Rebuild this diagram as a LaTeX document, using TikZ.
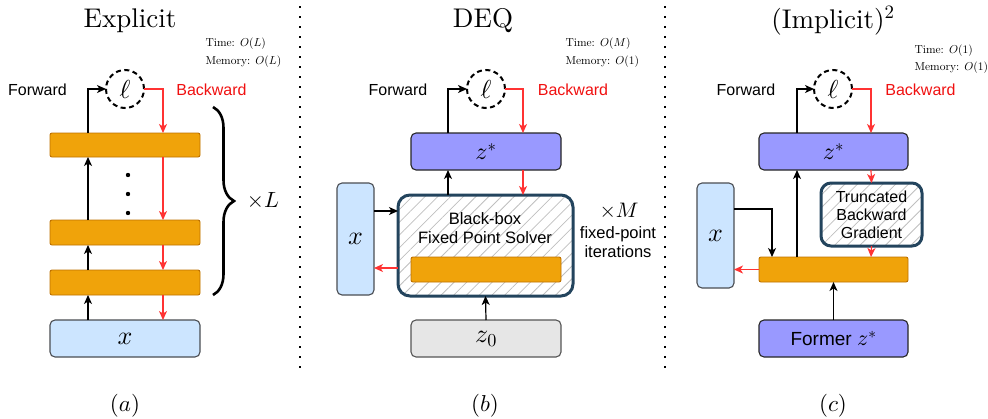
\RequirePackage{fix-cm}
\documentclass[tikz,border=0pt]{standalone}
\usepackage{amsmath}
\usepackage{fontspec}
\setmainfont{lmroman10-regular.otf}
\setsansfont{Liberation Sans}
% math glyphs drawn from the 10pt design at every size
\DeclareFontShape{OML}{cmm}{m}{it}{<->cmmi10}{}
\DeclareFontShape{OT1}{cmr}{m}{n}{<->cmr10}{}
\DeclareFontShape{OMS}{cmsy}{m}{n}{<->cmsy10}{}
\usetikzlibrary{arrows.meta,calc,patterns.meta,decorations.pathreplacing}

\definecolor{layerfill}{HTML}{F0A30A}
\definecolor{layerline}{HTML}{BD7000}
\definecolor{inputfill}{HTML}{CCE5FF}
\definecolor{inputline}{HTML}{4A4D52}
\definecolor{statefill}{HTML}{9999FF}
\definecolor{initfill}{HTML}{E6E6E6}
\definecolor{initline}{HTML}{555555}
\definecolor{solverline}{HTML}{23445D}
\definecolor{bwdred}{HTML}{FF3333}
\definecolor{bwdtext}{HTML}{F01010}

\tikzset{
  base/.style={inner sep=0pt, outer sep=0pt},
  layer/.style={base, draw=layerline, fill=layerfill, line width=0.9pt, rounded corners=2pt},
  inbox/.style={base, draw=inputline, fill=inputfill, line width=1.1pt, rounded corners=5pt,
    font=\fontsize{26}{26}\selectfont},
  statebox/.style={base, draw=black!85, fill=statefill, line width=1.1pt, rounded corners=5pt,
    font=\fontsize{24}{24}\selectfont},
  initbox/.style={base, draw=initline, fill=initfill, line width=1.1pt, rounded corners=5pt,
    font=\fontsize{26}{26}\selectfont},
  solverbox/.style={base, draw=solverline, line width=3pt, rounded corners=12pt,
    pattern={Lines[angle=45,distance=9pt,line width=0.8pt]}, pattern color=black!25},
  loss/.style={base, circle, draw=black, fill=white, line width=2pt, dash pattern=on 5pt off 3.5pt,
    minimum size=38pt, font=\fontsize{26}{26}\selectfont},
  fwd/.style={-{Stealth[length=9pt,width=8pt,inset=2.5pt]}, line width=1.2pt, black},
  bwd/.style={-{Stealth[length=9pt,width=8pt,inset=2.5pt]}, line width=1.2pt, bwdred},
  title/.style={anchor=base, font=\fontsize{27}{27}\selectfont},
  cost/.style={anchor=base west, font=\fontsize{11.5}{13}\selectfont},
  flowlabel/.style={anchor=base, font=\sffamily\fontsize{16}{19}\selectfont},
  sanslabel/.style={font=\sffamily\fontsize{16.5}{19.5}\selectfont, align=center},
  caption/.style={anchor=base, font=\fontsize{23}{23}\selectfont},
  sepline/.style={line width=2.4pt, dash pattern=on 2.4pt off 7.6pt},
  brace/.style={line width=2.6pt, decorate, decoration={brace, amplitude=21pt}},
}

\begin{document}
\begin{tikzpicture}[x=1pt, y=-1pt]
\useasboundingbox (0,0) rectangle (988,418);

% ---------- separators ----------
\coordinate (sepAtop) at (300,6);
\coordinate (sepAbot) at (300,368);
\coordinate (sepBtop) at (665,6);
\coordinate (sepBbot) at (665,372);
\draw[sepline] (sepAtop) -- (sepAbot);
\draw[sepline] (sepBtop) -- (sepBbot);

% ---------- (a) explicit network ----------
\node[title] (titleA) at (130,27) {Explicit};
\node[cost] (timeA) at (202,46) {Time: $O(L)$};
\node[cost] (memA) at (202,64) {Memory: $O(L)$};
\node[flowlabel] (fwdA) at (37.5,95) {Forward};
\node[flowlabel, text=bwdtext] (bwdA) at (211.5,95) {Backward};

\node[loss] (ellA) at (125,89) {$\ell$};
\node[layer, minimum width=150pt, minimum height=24pt] (barA1) at (125,145) {};
\node[layer, minimum width=150pt, minimum height=25pt] (barA2) at (125,232.5) {};
\node[layer, minimum width=150pt, minimum height=25pt] (barA3) at (125,282.5) {};
\node[inbox, minimum width=150pt, minimum height=37pt] (xA) at (125,338.5) {$x$};

\fill (128,175) circle (2.2pt) (128,194) circle (2.2pt) (128,213) circle (2.2pt);

\draw[fwd] ($(barA1.north west)+(38,0)$) |- (ellA.west);
\draw[fwd] ($(barA2.north west)+(38,0)$) -- ($(barA1.south west)+(38,0)$);
\draw[fwd] ($(barA3.north west)+(38,0)$) -- ($(barA2.south west)+(38,0)$);
\draw[fwd] ($(xA.north west)+(38,0)$) -- ($(barA3.south west)+(38,0)$);

\draw[bwd] (ellA.east) -| ($(barA1.north west)+(113,0)$);
\draw[bwd] ($(barA1.south west)+(113,0)$) -- ($(barA2.north west)+(113,0)$);
\draw[bwd] ($(barA2.south west)+(113,0)$) -- ($(barA3.north west)+(113,0)$);
\draw[bwd] ($(barA3.south west)+(113,0)$) -- ($(xA.north west)+(113,0)$);

\coordinate (braceTop) at (213,107);
\coordinate (braceBot) at (213,295);
\draw[brace] (braceTop) -- (braceBot);
\node[font=\fontsize{22}{22}\selectfont] (timesL) at (263,201) {$\times L$};

\node[caption] (capA) at (125,411) {$(a)$};

% ---------- (b) DEQ ----------
\node[title] (titleB) at (483,27) {DEQ};
\node[cost] (timeB) at (562,46) {Time: $O(M)$};
\node[cost] (memB) at (562,64) {Memory: $O(1)$};
\node[flowlabel] (fwdB) at (398,95) {Forward};
\node[flowlabel, text=bwdtext] (bwdB) at (573,95) {Backward};

\node[loss] (ellB) at (486,89) {$\ell$};
\node[statebox, minimum width=150pt, minimum height=37pt] (zsB) at (486,151.5) {$z^*$};
\node[solverbox, minimum width=175pt, minimum height=101pt] (solver) at (485.5,245.5) {};
\node[sanslabel] (solverText) at (485,228) {Black-box\\Fixed Point Solver};
\node[layer, minimum width=150pt, minimum height=25pt] (barB) at (486,269.5) {};
\node[inbox, minimum width=37pt, minimum height=112pt] (xB) at (355.5,239) {$x$};
\node[initbox, minimum width=150pt, minimum height=37pt] (z0) at (486,338.5) {$z_0$};

\draw[fwd] ($(solver.north west)+(50,0)$) -- ($(zsB.south west)+(37,0)$);
\draw[fwd] ($(zsB.north west)+(37,0)$) |- (ellB.west);
\draw[bwd] (ellB.east) -| ($(zsB.north west)+(112,0)$);
\draw[bwd] ($(zsB.south west)+(112,0)$) -- ($(solver.north west)+(125,0)$);
\draw[fwd] ($(xB.north east)+(0,28)$) -- ($(solver.north west)+(0,16)$);
\draw[bwd] ($(solver.north west)+(0,73)$) -- ($(xB.north east)+(0,85)$);
\draw[fwd] (z0.north) -- (solver.south);

\node[font=\fontsize{21}{21}\selectfont] (timesM) at (619,211) {$\times M$};
\node[sanslabel] (iterText) at (618,242) {fixed-point\\iterations};

\node[caption] (capB) at (485,411) {$(b)$};

% ---------- (c) implicit-squared ----------
\node[title] (titleC) at (833,28) {(Implicit)$^2$};
\node[cost] (timeC) at (911,53) {Time: $O(1)$};
\node[cost] (memC) at (911,70) {Memory: $O(1)$};
\node[flowlabel] (fwdC) at (746,95) {Forward};
\node[flowlabel, text=bwdtext] (bwdC) at (920.5,95) {Backward};

\node[loss] (ellC) at (833,89) {$\ell$};
\node[statebox, minimum width=149pt, minimum height=37pt] (zsC) at (833.5,151.5) {$z^*$};
\node[solverbox, rounded corners=10pt, minimum width=101pt, minimum height=63pt,
      font=\sffamily\fontsize{16}{18}\selectfont, align=center]
      (trunc) at (871.5,214.5) {Truncated\\Backward\\Gradient};
\node[layer, minimum width=149pt, minimum height=25pt] (barC) at (833.5,269.5) {};
\node[inbox, minimum width=37pt, minimum height=105pt] (xC) at (715.5,235.5) {$x$};
\node[statebox, minimum width=149pt, minimum height=37pt,
      font=\sffamily\fontsize{19}{21}\selectfont] (former) at (833.5,338.5)
      {Former {\fontsize{22}{22}\selectfont$z^*$}};

\draw[fwd] ($(barC.north west)+(38,0)$) -- ($(zsC.south west)+(38,0)$);
\draw[fwd] ($(zsC.north west)+(38,0)$) |- (ellC.west);
\draw[bwd] (ellC.east) -| ($(zsC.north west)+(112,0)$);
\draw[bwd] ($(zsC.south west)+(112,0)$) -- (trunc.north);
\draw[bwd] (trunc.south) -- ($(barC.north west)+(112,0)$);
\draw[fwd] ($(xC.north east)+(0,26)$) -| ($(barC.north west)+(13,0)$);
\draw[bwd] (barC.west) -- (xC.east |- barC.west);
\draw[fwd] (former.north) -- (barC.south);

\node[caption] (capC) at (833,411) {$(c)$};
\end{tikzpicture}
\end{document}
